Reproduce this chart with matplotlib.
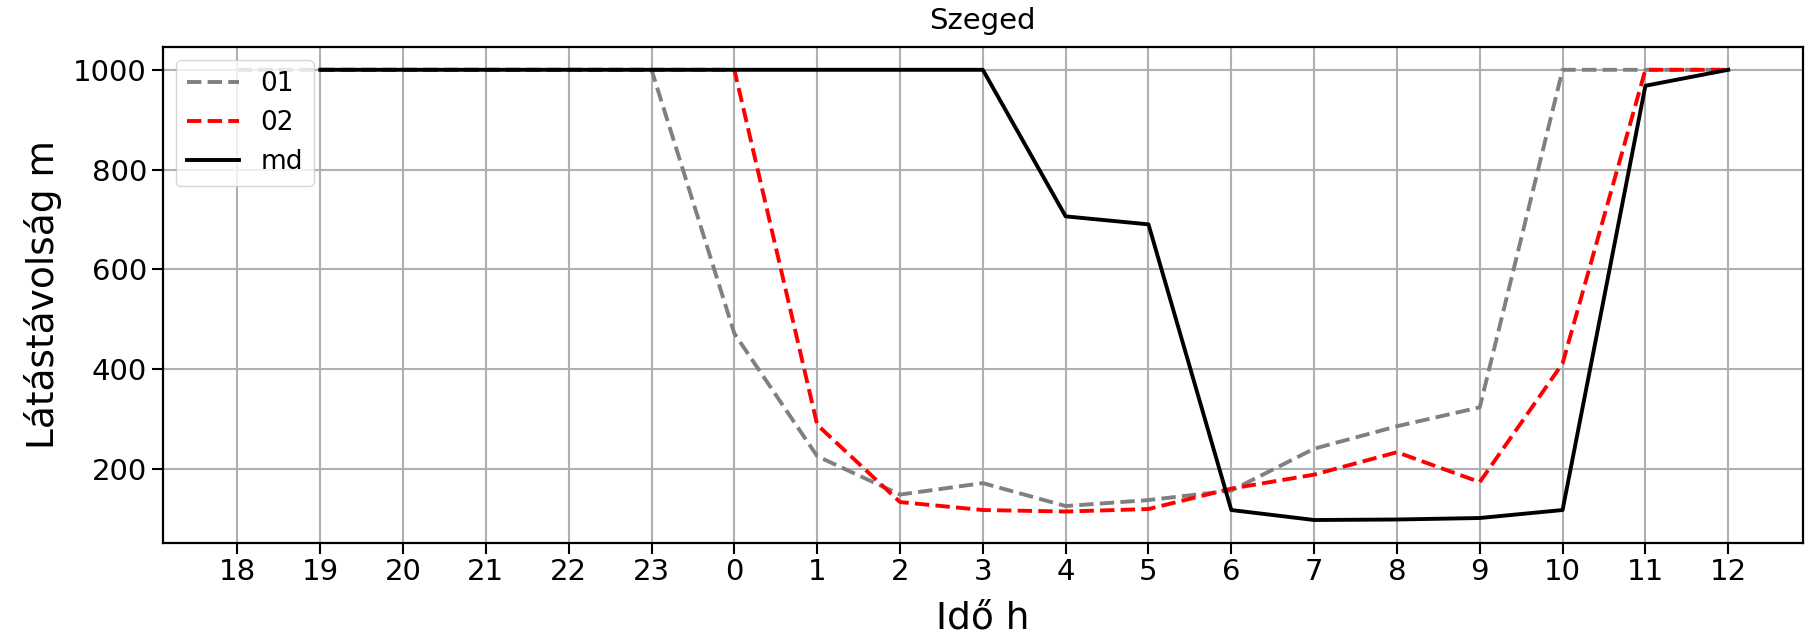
import numpy as np
import matplotlib.pyplot as plt

hours = ['18', '19', '20', '21', '22', '23', '0', '1', '2', '3', '4', '5',
         '6', '7', '8', '9', '10', '11', '12']
vis_01 = [1000, 1000, 1000, 1000, 1000, 1000, 471, 225, 148, 171, 125, 137,
          156, 240, 285, 323, 1000, 1000, 1000]
vis_02 = [np.nan, 1000, 1000, 1000, 1000, 1000, 1000, 288, 133, 117, 114, 119,
          160, 188, 233, 173, 411, 1000, 1000]
vis_md = [np.nan, 1000, 1000, 1000, 1000, 1000, 1000, 1000, 1000, 1000, 706, 690,
          117, 97, 98, 101, 117, 968, 1000]

x = np.arange(len(hours))

fig = plt.figure(figsize=(18.1, 6.39), dpi=100)
ax = fig.add_axes([0.090, 0.151, 0.906, 0.775])

ax.plot(x, vis_01, color='gray', linestyle='--', linewidth=2.8, label='01')
ax.plot(x, vis_02, color='red', linestyle='--', linewidth=2.8, label='02')
ax.plot(x, vis_md, color='black', linestyle='-', linewidth=2.8, label='md')

ax.set_xticks(x)
ax.set_xticklabels(hours)
ax.tick_params(labelsize=21, length=8, width=1.5)
ax.set_xlabel('Idő h', fontsize=27, labelpad=10)
ax.set_ylabel('Látástávolság m', fontsize=27, labelpad=8)
ax.set_title('Szeged', fontsize=21, pad=13)
ax.grid(True, linewidth=1.5)
for s in ax.spines.values():
    s.set_linewidth(1.6)
ax.legend(loc='upper left', fontsize=19)

fig.savefig('out.png', dpi=100)
